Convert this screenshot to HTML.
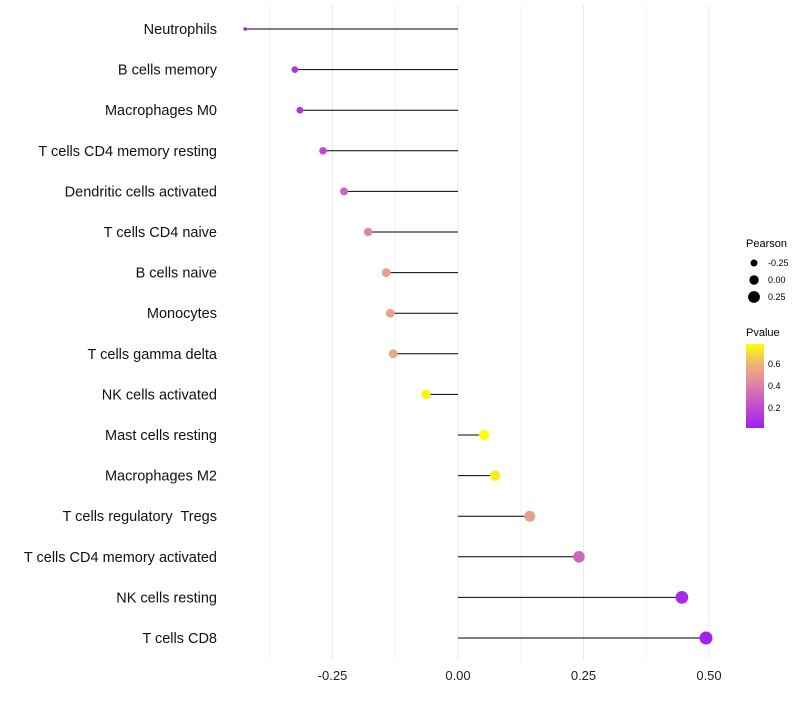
<!DOCTYPE html>
<html><head><meta charset="utf-8"><style>
body{margin:0;background:#fff;font-family:"Liberation Sans",sans-serif}
text{white-space:pre}
</style></head><body>
<svg id="chart" width="800" height="700" xmlns="http://www.w3.org/2000/svg" font-family="Liberation Sans, sans-serif">
<defs><linearGradient id="pg" x1="0" y1="1" x2="0" y2="0">
<stop offset="0" stop-color="#a020f0"/><stop offset="0.3" stop-color="#c855c8"/><stop offset="0.55" stop-color="#e08aa0"/><stop offset="0.75" stop-color="#eeb07c"/><stop offset="1" stop-color="#ffff00"/></linearGradient></defs>
<g id="grid"></g>
<g id="marks"></g>
<g id="axes"></g>
<g>
<text x="746" y="247" font-size="11">Pearson</text>
<circle cx="754" cy="263" r="3.5" fill="#000"/>
<circle cx="754" cy="280" r="4.7" fill="#000"/>
<circle cx="754" cy="297" r="5.9" fill="#000"/>
<text x="768" y="266" font-size="9">-0.25</text>
<text x="768" y="283" font-size="9">0.00</text>
<text x="768" y="300" font-size="9">0.25</text>
<text x="746" y="336" font-size="11">Pvalue</text>
<rect x="746" y="344" width="18" height="84" fill="url(#pg)"/>
<text x="768" y="367" font-size="9">0.6</text>
<text x="768" y="389" font-size="9">0.4</text>
<text x="768" y="411" font-size="9">0.2</text>
</g>
</svg>
<script>
const categories=["Neutrophils","B cells memory","Macrophages M0","T cells CD4 memory resting","Dendritic cells activated","T cells CD4 naive","B cells naive","Monocytes","T cells gamma delta","NK cells activated","Mast cells resting","Macrophages M2","T cells regulatory  Tregs","T cells CD4 memory activated","NK cells resting","T cells CD8"];
const pearson=[-0.424,-0.325,-0.315,-0.269,-0.227,-0.179,-0.143,-0.135,-0.129,-0.064,0.052,0.074,0.143,0.241,0.446,0.494];
const pvalues=[0.03,0.1,0.11,0.18,0.3,0.42,0.52,0.54,0.56,0.76,0.78,0.74,0.52,0.3,0.06,0.03];
const xTicks=[-0.25,0,0.25,0.5];
const xTickLabels=["-0.25","0.00","0.25","0.50"];
const NS="http://www.w3.org/2000/svg";
const xs=v=>458+v*502;
const ys=i=>29+i*40.6;
const vmin=Math.min(...pearson),vmax=Math.max(...pearson);
const rs=v=>1.8+4.7*Math.sqrt((v-vmin)/(vmax-vmin));
const stops=[[0,[160,32,240]],[0.3,[200,85,200]],[0.55,[224,138,160]],[0.75,[238,176,124]],[1,[255,255,0]]];
function col(p){const t=Math.max(0,Math.min(1,(p-0.02)/0.76));for(let k=1;k<stops.length;k++){if(t<=stops[k][0]){const a=stops[k-1],b=stops[k],f=(t-a[0])/(b[0]-a[0]);return "rgb("+a[1].map((c,j)=>Math.round(c+(b[1][j]-c)*f)).join(",")+")";}}return "rgb(255,255,0)";}
function mk(tag,at,par){const e=document.createElementNS(NS,tag);for(const k in at)e.setAttribute(k,at[k]);document.getElementById(par).appendChild(e);return e;}
for(let g=-0.375;g<=0.5001;g+=0.125){
 const l=mk("line",{x1:xs(g),x2:xs(g),y1:5,y2:660,stroke:Math.abs(g/0.25-Math.round(g/0.25))<1e-6?"#ebebeb":"#f4f4f4","stroke-width":1},"grid");
 
 
}
xTicks.forEach((t,i)=>{
 const e=mk("text",{x:xs(t),y:680,"font-size":13,"text-anchor":"middle",fill:"#222"},"axes");e.textContent=xTickLabels[i];
 
 
});
categories.forEach((c,i)=>{
 const y=ys(i);
 const t=mk("text",{x:217,y:y+5,"font-size":14.5,"text-anchor":"end",fill:"#111"},"axes");t.textContent=c;
 
 
 const l=mk("line",{x1:xs(0),x2:xs(pearson[i]),y1:y,y2:y,stroke:"#000","stroke-width":1},"marks");
 
 
 const p=mk("circle",{cx:xs(pearson[i]),cy:y,r:rs(pearson[i]),fill:col(pvalues[i])},"marks");
 
 
});
</script>
</body></html>
